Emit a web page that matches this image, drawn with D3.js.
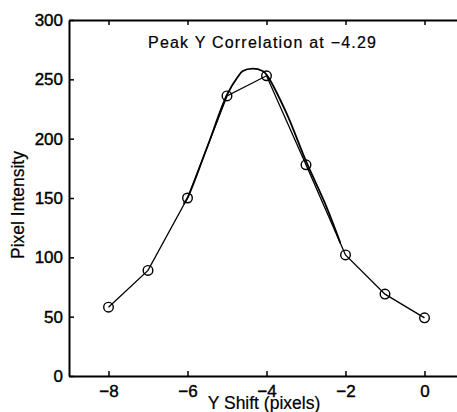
<!DOCTYPE html>
<html>
<head>
<meta charset="utf-8">
<script src="https://cdn.jsdelivr.net/npm/d3@7"></script>
<style>
  body { margin: 0; background: #fff; }
  text { font-family: "Liberation Sans", Arial, sans-serif; fill: #000; }
</style>
</head>
<body>
<svg id="board" width="457" height="412"></svg>
<script>
// sample points (y shift vs intensity)
var shifts = [-8, -7, -6, -5, -4, -3, -2, -1, 0];
var intensity = [58, 89, 150, 236, 253, 178, 102, 69, 49];

// fitted peak curve
var fitX = [-6.1, -6, -5.5, -5, -4.73, -4.6, -4.35, -4.1, -4, -3.5, -3, -2.5, -2.13];
var fitY = [145, 150, 193, 237, 252, 257, 259, 257, 254, 222, 181, 144, 112];

var xTicks = [-8, -6, -4, -2, 0];
var yTicks = [0, 50, 100, 150, 200, 250, 300];

var board = d3.select("#board");
var padL = 69, padR = 464, padT = 20, padB = 376;

var x = d3.scaleLinear().domain([-9, 1]).range([padL, padR]);
var y = d3.scaleLinear().domain([0, 300]).range([padB, padT]);

// axes, ticks pointing inward
var gx = board.append("g")
      .attr("transform", "translate(0," + padB + ")")
      .call(d3.axisBottom(x).tickValues(xTicks).tickSizeInner(-5).tickSizeOuter(0).tickPadding(9));
var gt = board.append("g")
      .attr("transform", "translate(0," + padT + ")")
      .call(d3.axisTop(x).tickValues(xTicks).tickSizeInner(-5).tickSizeOuter(0).tickFormat(""));
var gy = board.append("g")
      .attr("transform", "translate(" + padL + ",0)")
      .call(d3.axisLeft(y).tickValues(yTicks).tickSizeInner(-5).tickSizeOuter(0).tickPadding(6));

[gx, gt, gy].forEach(function(g)
{
  g.select(".domain").attr("stroke", "#000").attr("stroke-width", 2);
  g.selectAll(".tick line").attr("stroke", "#000").attr("stroke-width", 1.5);
  g.selectAll(".tick text")
      .attr("font-size", 17)
      .attr("font-family", "Liberation Sans, Arial, sans-serif")
      .attr("fill", "#000")
      .attr("stroke", "#000").attr("stroke-width", 0.4);
});

// fitted curve
var fit = fitX.map(function(v, i) { return [v, fitY[i]]; });
board.append("path")
      .datum(fit)
      .attr("d", d3.line().x(function(d) { return x(d[0]); })
                         .y(function(d) { return y(d[1]); })
                         .curve(d3.curveCatmullRom))
      .attr("fill", "none")
      .attr("stroke", "#000")
      .attr("stroke-width", 1.8);

// data line
var pts = shifts.map(function(v, i) { return [v, intensity[i]]; });
board.append("path")
      .datum(pts)
      .attr("d", d3.line().x(function(d) { return x(d[0]); })
                         .y(function(d) { return y(d[1]); }))
      .attr("fill", "none")
      .attr("stroke", "#000")
      .attr("stroke-width", 1.3);

board.selectAll("circle.pt")
      .data(pts)
      .enter().append("circle")
      .attr("class", "pt")
      .attr("cx", function(d) { return x(d[0]); })
      .attr("cy", function(d) { return y(d[1]); })
      .attr("r", 4.8)
      .attr("fill", "none")
      .attr("stroke", "#000")
      .attr("stroke-width", 1.4);

// labels
board.append("text")
      .attr("x", 262).attr("y", 48)
      .attr("text-anchor", "middle")
      .attr("font-size", 16)
      .attr("textLength", 228)
      .attr("stroke", "#000").attr("stroke-width", 0.2)
      .text("Peak Y Correlation at −4.29");

board.append("text")
      .attr("x", 264).attr("y", 409)
      .attr("text-anchor", "middle")
      .attr("font-size", 17.5)
      .attr("stroke", "#000").attr("stroke-width", 0.2)
      .text("Y Shift (pixels)");

board.append("text")
      .attr("transform", "translate(24,205) rotate(-90)")
      .attr("text-anchor", "middle")
      .attr("font-size", 17.5)
      .attr("stroke", "#000").attr("stroke-width", 0.2)
      .text("Pixel Intensity");
</script>
</body>
</html>
